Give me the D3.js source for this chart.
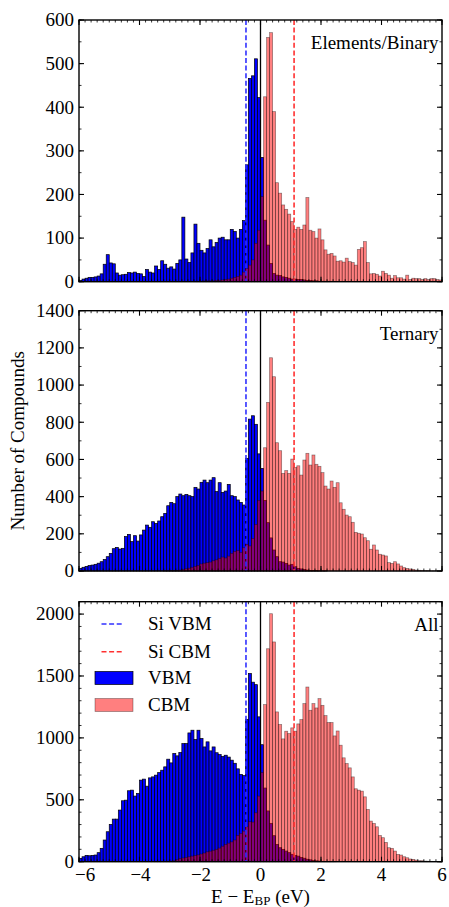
<!DOCTYPE html>
<html><head><meta charset="utf-8">
<script src="https://cdn.jsdelivr.net/npm/d3@7/dist/d3.min.js"></script>
<style>body{margin:0;background:#fff}svg{display:block}</style>
</head><body>
<svg id="chart" width="449" height="907"></svg>
<script>
// ---------------- DATA ----------------
// Histogram bins: 120 bins of 0.1 eV from -6 to 6 (bin k starts at -6 + 0.1*k)
const binStart = -6;
const binWidth = 0.1;

const elemBlue = [
  3, 6, 8, 10, 10, 11, 13, 18, 40, 62,
  43, 41, 20, 15, 16, 17, 21, 20, 22, 19,
  18, 12, 28, 22, 20, 36, 28, 48, 40, 31,
  34, 29, 42, 50, 148, 52, 44, 66, 132, 88,
  72, 66, 76, 96, 80, 90, 100, 102, 96, 96,
  120, 115, 100, 120, 140, 268, 466, 472, 511, 422,
  285, 141, 84, 42, 19, 15, 14, 11, 10, 8,
  6, 6, 5, 5, 4, 3, 3, 2, 2, 1,
  1, 1, 1, 0, 0, 0, 0, 0, 0, 0,
  0, 0, 0, 0, 0, 0, 0, 0, 0, 0,
  0, 0, 0, 0, 0, 0, 0, 0, 0, 0,
  0, 0, 0, 0, 0, 0, 0, 0, 0, 0
];
const elemRed = [
  0, 0, 0, 0, 0, 0, 0, 0, 0, 0,
  0, 0, 0, 0, 0, 0, 0, 0, 0, 0,
  0, 0, 0, 0, 0, 0, 0, 0, 0, 0,
  0, 0, 0, 0, 0, 0, 0, 0, 1, 1,
  1, 2, 2, 2, 2, 3, 3, 4, 5, 6,
  8, 10, 12, 15, 22, 30, 38, 50, 88, 118,
  195, 424, 560, 571, 390, 227, 203, 176, 166, 155,
  138, 120, 125, 120, 130, 193, 118, 115, 100, 121,
  96, 73, 63, 65, 59, 47, 48, 45, 54, 46,
  44, 38, 74, 78, 92, 44, 18, 19, 17, 13,
  24, 19, 15, 8, 14, 9, 9, 6, 15, 5,
  8, 7, 7, 5, 7, 5, 7, 7, 5, 4
];

const ternBlue = [
  14, 20, 25, 29, 32, 36, 42, 50, 62, 77,
  95, 120, 127, 118, 122, 185, 197, 158, 190, 161,
  194, 220, 247, 235, 265, 256, 269, 292, 310, 351,
  369, 362, 400, 414, 405, 412, 405, 400, 450, 441,
  477, 489, 475, 489, 502, 427, 475, 423, 430, 466,
  405, 400, 382, 369, 355, 606, 817, 835, 789, 630,
  552, 380, 260, 178, 113, 77, 50, 48, 41, 32,
  36, 23, 14, 11, 9, 5, 3, 2, 2, 1,
  1, 1, 0, 0, 0, 0, 0, 0, 0, 0,
  0, 0, 0, 0, 0, 0, 0, 0, 0, 0,
  0, 0, 0, 0, 0, 0, 0, 0, 0, 0,
  0, 0, 0, 0, 0, 0, 0, 0, 0, 0
];
const ternRed = [
  0, 0, 0, 0, 0, 0, 0, 0, 0, 0,
  0, 0, 0, 0, 0, 0, 0, 0, 0, 0,
  0, 0, 0, 0, 0, 0, 0, 0, 1, 1,
  2, 2, 3, 5, 8, 12, 15, 20, 25, 30,
  38, 42, 45, 48, 55, 60, 68, 75, 70, 80,
  95, 105, 110, 100, 125, 143, 135, 175, 250, 380,
  430, 663, 907, 1147, 1045, 690, 647, 525, 540, 525,
  602, 557, 566, 516, 597, 633, 570, 624, 574, 563,
  529, 457, 441, 484, 450, 475, 367, 332, 301, 292,
  262, 208, 203, 199, 179, 163, 117, 140, 113, 90,
  86, 81, 45, 41, 50, 38, 27, 18, 14, 11,
  9, 5, 4, 3, 2, 2, 1, 1, 1, 0
];

const allBlue = [
  27, 40, 51, 48, 51, 54, 73, 108, 175, 242,
  301, 344, 344, 417, 492, 497, 573, 578, 530, 551,
  659, 667, 610, 677, 685, 699, 720, 739, 766, 828,
  798, 874, 855, 882, 954, 954, 1040, 1062, 987, 1062,
  995, 927, 968, 895, 927, 880, 865, 850, 860, 845,
  820, 795, 750, 705, 696, 1150, 1520, 1450, 1430, 1170,
  945, 595, 410, 310, 210, 140, 113, 100, 86, 73,
  60, 50, 45, 35, 28, 20, 15, 10, 7, 5,
  3, 2, 2, 1, 1, 0, 0, 0, 0, 0,
  0, 0, 0, 0, 0, 0, 0, 0, 0, 0,
  0, 0, 0, 0, 0, 0, 0, 0, 0, 0,
  0, 0, 0, 0, 0, 0, 0, 0, 0, 0
];
const allRed = [
  0, 0, 0, 0, 0, 0, 0, 0, 0, 0,
  0, 0, 0, 0, 0, 0, 0, 0, 0, 0,
  0, 0, 0, 0, 0, 1, 2, 2, 3, 4,
  5, 8, 15, 25, 30, 35, 40, 45, 50, 55,
  62, 70, 80, 85, 92, 100, 110, 125, 140, 150,
  160, 175, 212, 228, 247, 282, 323, 320, 395, 530,
  720, 1269, 1720, 2003, 1775, 1210, 1108, 992, 1054, 1035,
  1081, 1054, 1113, 1148, 1277, 1411, 1223, 1277, 1242, 1317,
  1263, 1180, 1124, 1124, 1016, 1056, 941, 839, 793, 758,
  685, 589, 578, 570, 524, 422, 328, 309, 282, 212,
  194, 156, 113, 108, 86, 59, 54, 40, 32, 22,
  19, 13, 8, 8, 5, 4, 3, 2, 1, 1
];

const panelNames = ["Elements/Binary", "Ternary", "All"];
const yMaxes = [600, 1400, 2100];
const yMajorSteps = [100, 200, 500];
const yMinorSteps = [50, 100, 100];
const xMajorTicks = [-6, -4, -2, 0, 2, 4, 6];
const siVBM = -0.48;
const siCBM = 1.11;
const legendLabels = ["Si VBM", "Si CBM", "VBM", "CBM"];

// ---------------- LAYOUT ----------------
const svg = d3.select("#chart");
const FONT = "'Liberation Serif', 'Times New Roman', Times, serif";
const FS = 19;
const plotLeft = 79, plotRight = 442;
const panelTops = [20, 310.7, 601.7];
const panelBottoms = [281.7, 571, 861.7];
const seriesBlue = [elemBlue, ternBlue, allBlue];
const seriesRed = [elemRed, ternRed, allRed];

const x = d3.scaleLinear().domain([-6, 6]).range([plotLeft, plotRight]);
const minorX = d3.range(-6, 6.0001, 0.2);

panelNames.forEach((name, p) => {
  const top = panelTops[p], bot = panelBottoms[p];
  const y = d3.scaleLinear().domain([0, yMaxes[p]]).range([bot, top]);
  const g = svg.append("g");

  const bins = (arr) => arr.map((v, k) => ({x0: binStart + k * binWidth, x1: binStart + (k + 1) * binWidth, v}))
                          .filter(d => d.v > 0);

  // VBM (blue) bars
  g.append("g").selectAll("rect").data(bins(seriesBlue[p])).join("rect")
    .attr("x", d => x(d.x0)).attr("width", d => x(d.x1) - x(d.x0))
    .attr("y", d => y(d.v)).attr("height", d => y(0) - y(d.v))
    .attr("fill", "#0000ff").attr("stroke", "#000").attr("stroke-width", 0.7);

  // CBM (red, semi-transparent) bars
  g.append("g").selectAll("rect").data(bins(seriesRed[p])).join("rect")
    .attr("x", d => x(d.x0)).attr("width", d => x(d.x1) - x(d.x0))
    .attr("y", d => y(d.v)).attr("height", d => y(0) - y(d.v))
    .attr("fill", "#ff0000").attr("fill-opacity", 0.5)
    .attr("stroke", "#000").attr("stroke-opacity", 0.45).attr("stroke-width", 0.7);

  // reference lines
  g.append("line").attr("x1", x(0)).attr("x2", x(0)).attr("y1", top).attr("y2", bot)
    .attr("stroke", "#000").attr("stroke-width", 1.3);
  g.append("line").attr("x1", x(siVBM)).attr("x2", x(siVBM)).attr("y1", top).attr("y2", bot)
    .attr("stroke", "#3030ff").attr("stroke-width", 1.6).attr("stroke-dasharray", "5,2.6");
  g.append("line").attr("x1", x(siCBM)).attr("x2", x(siCBM)).attr("y1", top).attr("y2", bot)
    .attr("stroke", "#ff3030").attr("stroke-width", 1.6).attr("stroke-dasharray", "5,2.6");

  // ticks (inward, all four sides)
  const tk = g.append("g").attr("stroke", "#000");
  xMajorTicks.forEach(t => {
    tk.append("line").attr("x1", x(t)).attr("x2", x(t)).attr("y1", bot).attr("y2", bot - 5).attr("stroke-width", 1.1);
    tk.append("line").attr("x1", x(t)).attr("x2", x(t)).attr("y1", top).attr("y2", top + 5).attr("stroke-width", 1.1);
  });
  minorX.forEach(t => {
    tk.append("line").attr("x1", x(t)).attr("x2", x(t)).attr("y1", bot).attr("y2", bot - 2.5).attr("stroke-width", 0.8);
    tk.append("line").attr("x1", x(t)).attr("x2", x(t)).attr("y1", top).attr("y2", top + 2.5).attr("stroke-width", 0.8);
  });
  const yMaj = d3.range(0, yMaxes[p] + 0.001, yMajorSteps[p]);
  const yMin = d3.range(0, yMaxes[p] + 0.001, yMinorSteps[p]);
  yMin.forEach(t => {
    tk.append("line").attr("x1", plotLeft).attr("x2", plotLeft + 2.5).attr("y1", y(t)).attr("y2", y(t)).attr("stroke-width", 0.8);
    tk.append("line").attr("x1", plotRight).attr("x2", plotRight - 2.5).attr("y1", y(t)).attr("y2", y(t)).attr("stroke-width", 0.8);
  });
  yMaj.forEach(t => {
    tk.append("line").attr("x1", plotLeft).attr("x2", plotLeft + 5).attr("y1", y(t)).attr("y2", y(t)).attr("stroke-width", 1.1);
    tk.append("line").attr("x1", plotRight).attr("x2", plotRight - 5).attr("y1", y(t)).attr("y2", y(t)).attr("stroke-width", 1.1);
  });

  // y tick labels
  g.append("g").selectAll("text").data(yMaj).join("text")
    .attr("x", plotLeft - 5).attr("y", d => y(d)).attr("dy", "0.33em")
    .attr("text-anchor", "end").attr("font-family", FONT).attr("font-size", FS)
    .text(d => d);

  // frame
  g.append("rect").attr("x", plotLeft).attr("y", top).attr("width", plotRight - plotLeft).attr("height", bot - top)
    .attr("fill", "none").attr("stroke", "#000").attr("stroke-width", 1.4);

  // panel label
  g.append("text").attr("x", 438.5).attr("y", top + 29).attr("text-anchor", "end")
    .attr("font-family", FONT).attr("font-size", FS).text(name);

  // x tick labels only on bottom panel
  if (p === 2) {
    g.append("g").selectAll("text").data(xMajorTicks).join("text")
      .attr("x", d => d === -6 ? plotLeft - 4 : x(d) + (d < 0 ? 1 : 0))
      .attr("y", 881)
      .attr("text-anchor", d => d === -6 ? "start" : "middle")
      .attr("font-family", FONT).attr("font-size", FS)
      .text(d => d < 0 ? "\u2212" + Math.abs(d) : String(d));
  }
});

// x axis label
const xl = svg.append("text").attr("x", x(0)).attr("y", 903).attr("text-anchor", "middle")
  .attr("font-family", FONT).attr("font-size", FS);
xl.append("tspan").text("E \u2212 E");
xl.append("tspan").attr("font-size", 13).attr("dy", 2).text("BP");
xl.append("tspan").attr("dy", -2).text(" (eV)");

// y axis label
svg.append("text").attr("transform", "translate(23.5,440.8) rotate(-90)")
  .attr("text-anchor", "middle").attr("font-family", FONT).attr("font-size", 19)
  .text("Number of Compounds");

// legend (in bottom panel)
const lg = svg.append("g");
const rowY = [624, 651.7, 678, 705];
lg.append("line").attr("x1", 101.5).attr("x2", 124).attr("y1", rowY[0]).attr("y2", rowY[0])
  .attr("stroke", "#3030ff").attr("stroke-width", 1.6).attr("stroke-dasharray", "5,2.6");
lg.append("line").attr("x1", 101.5).attr("x2", 124).attr("y1", rowY[1]).attr("y2", rowY[1])
  .attr("stroke", "#ff3030").attr("stroke-width", 1.6).attr("stroke-dasharray", "5,2.6");
lg.append("rect").attr("x", 95).attr("y", rowY[2] - 6.5).attr("width", 38).attr("height", 13)
  .attr("fill", "#0000ff").attr("stroke", "#000").attr("stroke-width", 0.7);
lg.append("rect").attr("x", 95).attr("y", rowY[3] - 6.5).attr("width", 38).attr("height", 13)
  .attr("fill", "#ff0000").attr("fill-opacity", 0.5).attr("stroke", "#000").attr("stroke-opacity", 0.45).attr("stroke-width", 0.7);
legendLabels.forEach((t, i) => {
  lg.append("text").attr("x", 148).attr("y", rowY[i]).attr("dy", "0.33em")
    .attr("font-family", FONT).attr("font-size", FS).text(t);
});
</script>
</body></html>
